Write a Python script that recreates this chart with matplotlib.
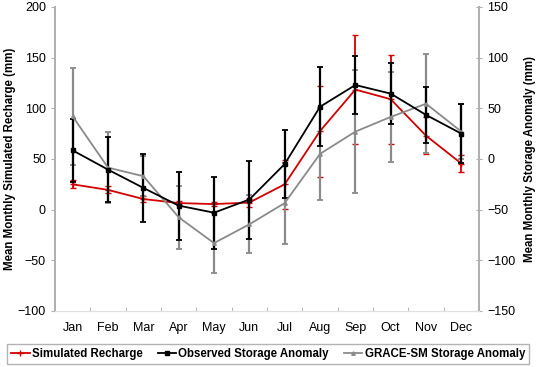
import matplotlib
matplotlib.use("Agg")
import matplotlib.pyplot as plt
from matplotlib.lines import Line2D
import numpy as np

plt.rcParams['font.family'] = ['Liberation Sans', 'DejaVu Sans']

# --- данные ---
months = ["Jan", "Feb", "Mar", "Apr", "May", "Jun",
          "Jul", "Aug", "Sep", "Oct", "Nov", "Dec"]

# Simulated Recharge (левая ось, mm)
recharge = [25, 19.5, 10.5, 6.5, 5.5, 7, 25, 77.5, 118.5, 109, 73, 45.5]
recharge_err = [4, 3.5, 3, 2, 2, 4, 24, 45, 54, 44, 18, 8]

# Observed Storage Anomaly (правая ось, mm)
observed = [8.5, -10.5, -28.5, -46, -53, -40, -5, 51.5, 73, 64.5, 43.5, 25]
observed_err = [31, 32, 33.5, 33.5, 35.5, 38.5, 33.5, 39, 29, 30, 28, 29]

# GRACE-SM Storage Anomaly (правая ось, mm)
grace = [42, -8.5, -17, -57.5, -83, -64.5, -43.5, 5, 27, 41.5, 54.5, 27]
grace_err = [48, 35, 20, 31, 29.5, 28.5, 40, 45, 61, 44, 49, 27]

red = "#d40000"
gray = "#8a8a8a"
spine_col = "#b0b0b0"

x = np.arange(len(months))

fig, ax1 = plt.subplots(figsize=(5.36, 3.67), dpi=100)
fig.subplots_adjust(left=0.1026, right=0.8937, top=0.981, bottom=0.1526)
ax2 = ax1.twinx()

# --- линии с погрешностями ---
ax1.errorbar(x, recharge, yerr=recharge_err, color=red, lw=1.3,
             marker='+', ms=4, mew=1, capsize=2, capthick=1.3,
             elinewidth=1.3)
ax2.errorbar(x, grace, yerr=grace_err, color=gray, lw=1.3,
             marker='^', ms=2.5, capsize=2, capthick=1.3,
             elinewidth=1.6)
ax2.errorbar(x, observed, yerr=observed_err, color="black", lw=1.3,
             marker='s', ms=3.5, capsize=2, capthick=1.3,
             elinewidth=1.6)

# --- оси ---
ax1.set_xlim(-0.5, 11.5)
ax1.set_ylim(-100, 200)
ax2.set_ylim(-150, 150)
ax1.set_yticks(np.arange(-100, 201, 50))
ax2.set_yticks(np.arange(-150, 151, 50))

ax1.set_xticks(x)
ax1.set_xticklabels(months, fontsize=9)
ax1.set_xticks(np.arange(0.5, 11, 1), minor=True)
ax1.tick_params(axis='x', which='major', length=0, pad=8)
ax1.tick_params(axis='x', which='minor', length=3, direction='in', color=spine_col)
ax1.tick_params(axis='y', labelsize=9, length=3, color=spine_col)
ax2.tick_params(axis='y', labelsize=9, length=5, direction='inout', color=spine_col)

for ax in (ax1, ax2):
    ax.spines['top'].set_visible(False)
    ax.spines['left'].set_color(spine_col)
    ax.spines['right'].set_color(spine_col)
    ax.spines['bottom'].set_color("#e0e0e0")
    ax.spines['left'].set_linewidth(1.3)
    ax.spines['right'].set_linewidth(1.3)

ax1.set_ylabel("Mean Monthly Simulated Recharge (mm)", fontsize=8.3,
               fontweight='bold', labelpad=1)
ax2.set_ylabel("Mean Monthly Storage Anomaly (mm)", fontsize=8.3,
               fontweight='bold', labelpad=6)

# --- легенда ---
handles = [Line2D([], [], color=red, lw=1.3, marker='+', ms=4),
           Line2D([], [], color="black", lw=1.3, marker='s', ms=3),
           Line2D([], [], color=gray, lw=1.3, marker='^', ms=2.5)]
leg = fig.legend(handles,
                 ["Simulated Recharge", "Observed Storage Anomaly",
                  "GRACE-SM Storage Anomaly"],
                 loc='lower center', bbox_to_anchor=(0.5, 0.008), ncol=3,
                 prop={'weight': 'bold', 'size': 8.3}, frameon=True,
                 fancybox=False, handlelength=1.6, handletextpad=0.2,
                 columnspacing=1.3, borderpad=0.35, borderaxespad=0)
leg.get_frame().set_edgecolor("#a0a0a0")
leg.get_frame().set_linewidth(1.0)

plt.savefig("out.png", dpi=100)
